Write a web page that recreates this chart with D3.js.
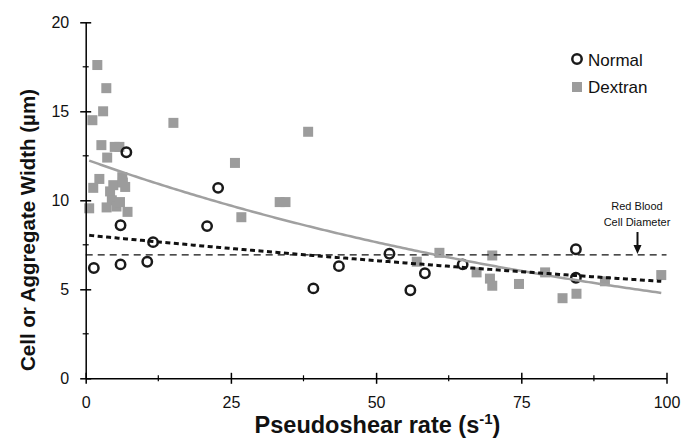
<!DOCTYPE html>
<html>
<head>
<meta charset="utf-8">
<script src="https://cdn.jsdelivr.net/npm/d3@7/dist/d3.min.js"></script>
<style>
  body { margin: 0; background: #fff; }
  svg { display: block; font-family: "Liberation Sans", Arial, sans-serif; }
</style>
</head>
<body>
<div id="chart"></div>
<script>
// Normal cells: [pseudoshear rate, width]
const normalPts = [
  [1.4, 6.2], [6.0, 6.4], [6.0, 8.6], [7.0, 12.7], [10.6, 6.55], [11.6, 7.65],
  [20.9, 8.55], [22.8, 10.7], [39.2, 5.05], [43.6, 6.3], [52.3, 7.0], [55.9, 4.95],
  [58.4, 5.9], [64.9, 6.4], [84.4, 7.25], [84.4, 5.65]
];

// Dextran aggregates
const dextranPts = [
  [1.15, 14.5], [2.0, 17.6], [3.0, 15.0], [3.55, 16.3], [2.7, 13.1], [3.7, 12.4],
  [5.0, 13.0], [5.8, 13.0], [15.1, 14.35],
  [0.6, 9.55], [1.3, 10.7], [2.35, 11.2], [3.6, 9.6], [4.2, 10.5], [4.5, 10.0],
  [4.75, 10.85], [5.3, 9.65], [5.9, 9.9], [6.3, 11.3], [6.8, 10.75], [7.2, 9.35], [6.4, 11.0],
  [25.7, 12.1], [26.8, 9.05], [33.4, 9.9], [34.4, 9.9], [38.3, 13.85],
  [57.0, 6.55], [60.9, 7.05], [67.3, 5.95], [69.6, 5.6], [70.0, 6.9], [70.0, 5.2],
  [74.6, 5.3], [79.1, 5.95], [82.1, 4.5], [84.5, 4.75], [89.4, 5.45], [99.1, 5.8]
];

// exponential trendlines y = a * exp(-b * x)
const dextranTrend = { a: 12.3, b: 0.0095, from: 0.6, to: 99.1 };
const normalTrend = { a: 8.05, b: 0.00394, from: 0.6, to: 99.1 };

const rbcDiameter = 6.93;

const xTicks = [0, 25, 50, 75, 100];
const xMinor = [12.5, 37.5, 62.5, 87.5];
const yTicks = [0, 5, 10, 15, 20];
const yMinor = [2.5, 7.5, 12.5, 17.5];

const W = 682, H = 444;
const plotL = 85.7, plotR = 666.5, plotT = 22.3, plotB = 378.3;

const svg = d3.select("#chart").append("svg")
  .attr("width", W)
  .attr("height", H);

const x = d3.scaleLinear().domain([0, 100]).range([plotL, plotR]);
const y = d3.scaleLinear().domain([0, 20]).range([plotB, plotT]);

// markers
svg.append("g").selectAll("rect")
  .data(dextranPts)
  .enter().append("rect")
  .attr("x", d => x(d[0]) - 5)
  .attr("y", d => y(d[1]) - 5)
  .attr("width", 10)
  .attr("height", 10)
  .attr("fill", "#9c9c9c");

svg.append("g").selectAll("circle")
  .data(normalPts)
  .enter().append("circle")
  .attr("cx", d => x(d[0]))
  .attr("cy", d => y(d[1]))
  .attr("r", 4.7)
  .attr("fill", "none")
  .attr("stroke", "#1a1a1a")
  .attr("stroke-width", 2.5);

// red blood cell reference line
svg.append("line")
  .attr("x1", x(0)).attr("x2", x(100))
  .attr("y1", y(rbcDiameter)).attr("y2", y(rbcDiameter))
  .attr("stroke", "#111")
  .attr("stroke-width", 1.2)
  .attr("stroke-dasharray", "7,5");

// trendlines
function trendPath(t) {
  const xs = d3.range(t.from, t.to, 0.5).concat([t.to]);
  return d3.line()
    .x(v => x(v))
    .y(v => y(t.a * Math.exp(-t.b * v)))(xs);
}

svg.append("path")
  .attr("d", trendPath(dextranTrend))
  .attr("fill", "none")
  .attr("stroke", "#a0a0a0")
  .attr("stroke-width", 2.5);

svg.append("path")
  .attr("d", trendPath(normalTrend))
  .attr("fill", "none")
  .attr("stroke", "#111")
  .attr("stroke-width", 3)
  .attr("stroke-dasharray", "5,3.5");

// axes
const xAxis = svg.append("g")
  .attr("transform", "translate(0," + plotB + ")")
  .call(d3.axisBottom(x).tickValues(xTicks).tickSize(0).tickPadding(18));
const yAxis = svg.append("g")
  .attr("transform", "translate(" + plotL + ",0)")
  .call(d3.axisLeft(y).tickValues(yTicks).tickSize(0).tickPadding(16.5));

[xAxis, yAxis].forEach(g => {
  g.select(".domain").attr("stroke", "#000").attr("stroke-width", 1.5);
  g.selectAll("text").attr("font-size", "16px").attr("fill", "#111")
    .style("font-family", "Liberation Sans, Arial, sans-serif");
});
xAxis.selectAll(".tick line").attr("y1", -5.5).attr("y2", 5.5).attr("stroke", "#000").attr("stroke-width", 1.5);
yAxis.selectAll(".tick line").attr("x1", -5.5).attr("x2", 5.5).attr("stroke", "#000").attr("stroke-width", 1.5);

xAxis.selectAll(".minor").data(xMinor).enter().append("line")
  .attr("x1", d => x(d)).attr("x2", d => x(d))
  .attr("y1", -3).attr("y2", 3)
  .attr("stroke", "#000").attr("stroke-width", 1.2);
yAxis.selectAll(".minor").data(yMinor).enter().append("line")
  .attr("y1", d => y(d)).attr("y2", d => y(d))
  .attr("x1", -3).attr("x2", 3)
  .attr("stroke", "#000").attr("stroke-width", 1.2);

// axis titles
const xTitle = svg.append("text")
  .attr("x", (251.7 + 503.3) / 2)
  .attr("y", 433)
  .attr("text-anchor", "middle")
  .attr("font-size", "23.5px")
  .attr("font-weight", "bold")
  .attr("fill", "#111");
xTitle.append("tspan").text("Pseudoshear rate (s");
xTitle.append("tspan").attr("dy", -9).attr("font-size", "15px").text("-1");
xTitle.append("tspan").attr("dy", 9).text(")");

svg.append("text")
  .attr("transform", "translate(35,230) rotate(-90)")
  .attr("text-anchor", "middle")
  .attr("font-size", "20.5px")
  .attr("font-weight", "bold")
  .attr("fill", "#111")
  .text("Cell or Aggregate Width (µm)");

// legend
const legend = svg.append("g");
legend.append("circle")
  .attr("cx", 577).attr("cy", 59).attr("r", 4.7)
  .attr("fill", "none").attr("stroke", "#1a1a1a").attr("stroke-width", 2.5);
legend.append("text")
  .attr("x", 588).attr("y", 65.5)
  .attr("font-size", "17px").attr("fill", "#111")
  .text("Normal");
legend.append("rect")
  .attr("x", 572).attr("y", 82).attr("width", 10).attr("height", 10)
  .attr("fill", "#9c9c9c");
legend.append("text")
  .attr("x", 588).attr("y", 92.7)
  .attr("font-size", "17px").attr("fill", "#111")
  .text("Dextran");

// annotation
svg.append("text")
  .attr("x", 637).attr("y", 210)
  .attr("text-anchor", "middle")
  .attr("font-size", "11px").attr("fill", "#111")
  .text("Red Blood");
svg.append("text")
  .attr("x", 637).attr("y", 226)
  .attr("text-anchor", "middle")
  .attr("font-size", "11px").attr("fill", "#111")
  .text("Cell Diameter");
svg.append("line")
  .attr("x1", 637.5).attr("x2", 637.5)
  .attr("y1", 232).attr("y2", 246)
  .attr("stroke", "#111").attr("stroke-width", 2);
svg.append("path")
  .attr("d", "M633.5,245 L641.5,245 L637.5,254 Z")
  .attr("fill", "#111");
</script>
</body>
</html>
